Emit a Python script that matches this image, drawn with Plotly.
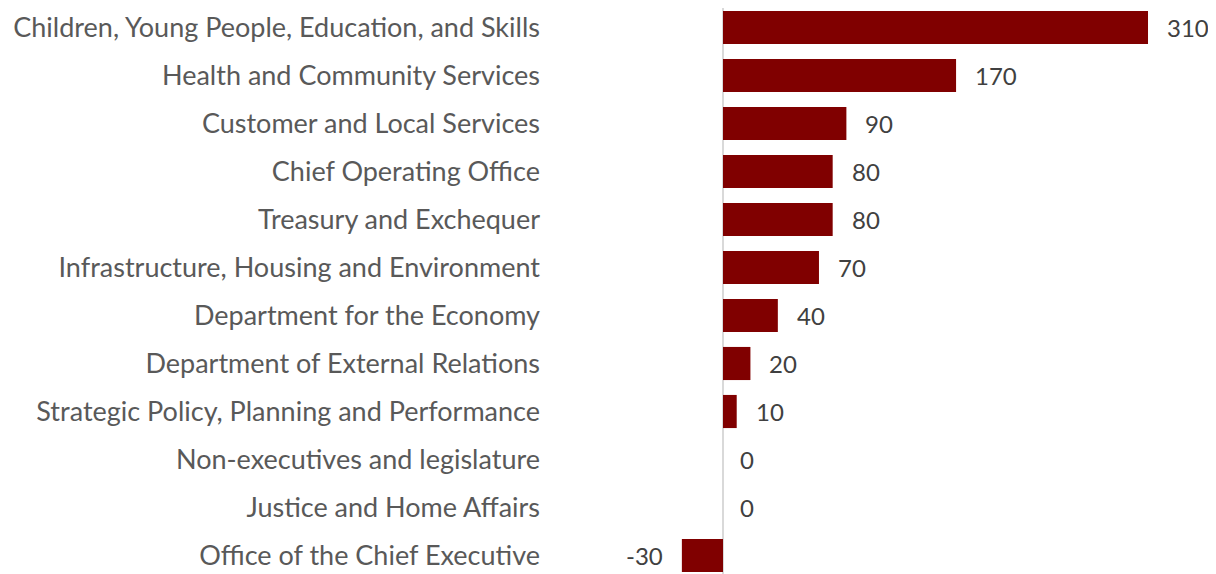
import plotly.graph_objects as go

departments = [
    "Children, Young People, Education, and Skills",
    "Health and Community Services",
    "Customer and Local Services",
    "Chief Operating Office",
    "Treasury and Exchequer",
    "Infrastructure, Housing and Environment",
    "Department for the Economy",
    "Department of External Relations",
    "Strategic Policy, Planning and Performance",
    "Non-executives and legislature",
    "Justice and Home Affairs",
    "Office of the Chief Executive",
]
values = [310, 170, 90, 80, 80, 70, 40, 20, 10, 0, 0, -30]

FONT = "Lato"
BAR = "#800000"

# the page body adds an 8px margin, so the figure is drawn 8px smaller
W, H = 1208, 566
ZERO_X = 715       # pixel of x=0 inside the figure
PX_PER_UNIT = 1.371
LEFT = 552         # left edge of plot area

fig = go.Figure()
fig.add_trace(go.Bar(
    x=values,
    y=departments,
    orientation="h",
    marker=dict(color=BAR, line=dict(width=0)),
    width=0.69,
    hoverinfo="x+y",
))

# value labels just beyond the bar ends
for d, v in zip(departments, values):
    fig.add_annotation(
        x=v, y=d, text=str(v), showarrow=False,
        xanchor="right" if v < 0 else "left",
        xshift=-17 if v < 0 else (15 if v == 0 else 17),
        font=dict(family=FONT, size=24, color="#404040"),
    )

fig.update_layout(
    width=W, height=H,
    margin=dict(l=LEFT, r=0, t=0, b=0),
    paper_bgcolor="white", plot_bgcolor="white",
    showlegend=False,
    font=dict(family=FONT, size=24, color="#595959"),
    xaxis=dict(
        range=[(LEFT - ZERO_X) / PX_PER_UNIT, (W - ZERO_X) / PX_PER_UNIT],
        showgrid=False, showticklabels=False, ticks="",
        zeroline=True, zerolinecolor="#d9d9d9", zerolinewidth=2,
        fixedrange=True,
    ),
    yaxis=dict(
        type="category",
        range=[11 + (H - 547.5) / 48, -19.5 / 48],
        showgrid=False, ticks="", ticklabelstandoff=19,
        tickfont=dict(family=FONT, size=27, color="#595959"),
        fixedrange=True,
    ),
)

fig.write_html("out.html")
